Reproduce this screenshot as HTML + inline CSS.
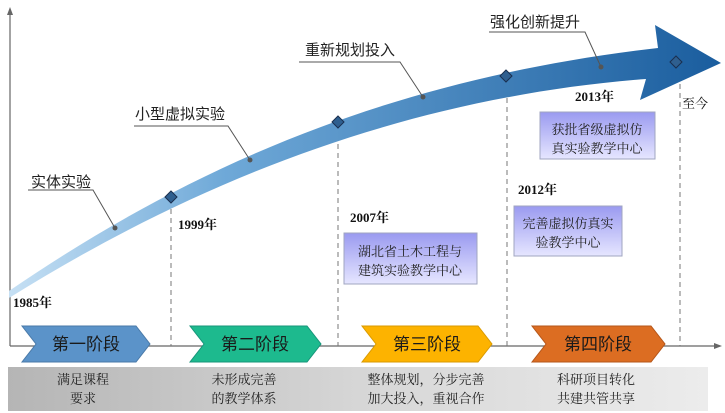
<!DOCTYPE html>
<html><head><meta charset="utf-8"><style>
html,body{margin:0;padding:0;background:#fff;}
svg{display:block;font-family:"Liberation Sans","Noto Sans CJK SC",sans-serif;}
.s{font-family:"Liberation Serif","Noto Serif CJK SC",serif;font-weight:bold;}
</style></head><body>
<svg width="725" height="413" viewBox="0 0 725 413" xmlns="http://www.w3.org/2000/svg">
<defs>
<linearGradient id="ag" x1="0" y1="0" x2="1" y2="0">
<stop offset="0" stop-color="#c6e0f4"/><stop offset="0.3" stop-color="#6fa9d8"/><stop offset="1" stop-color="#1a5d9e"/>
</linearGradient>
<linearGradient id="bx" x1="0" y1="0" x2="0" y2="1">
<stop offset="0" stop-color="#9a9af0"/><stop offset="1" stop-color="#e6e6ff"/>
</linearGradient>
<linearGradient id="gb" x1="0" y1="0" x2="1" y2="0">
<stop offset="0" stop-color="#b5b5b5"/><stop offset="0.5" stop-color="#d6d6d6"/><stop offset="1" stop-color="#ececec"/>
</linearGradient>
</defs>
<line x1="10" y1="346" x2="10" y2="12" stroke="#666" stroke-width="1.2"/>
<polygon points="10,7 7,15 13,15" fill="#666"/>
<line x1="10" y1="346" x2="716" y2="346" stroke="#666" stroke-width="1.2"/>
<polygon points="722,346 714,343 714,349" fill="#666"/>
<rect x="8" y="367" width="700" height="44" fill="url(#gb)"/>
<g stroke="#777" stroke-dasharray="5,4" stroke-width="1">
<line x1="171" y1="200" x2="171" y2="346"/>
<line x1="338" y1="126" x2="338" y2="346"/>
<line x1="507" y1="80" x2="507" y2="346"/>
<line x1="680" y1="66" x2="680" y2="346"/>
</g>
<path d="M9,291 C160,188 360,82 658,48 L655,25 L721,63 L640,100 L646,79 C400,98 190,185 9,298 Z" fill="url(#ag)"/>
<g fill="#2f5f8f" stroke="#1a2f4f" stroke-width="1">
<polygon points="171,191 177,197 171,203 165,197"/>
<polygon points="338,116 344,122 338,128 332,122"/>
<polygon points="506,70 512,76 506,82 500,76"/>
<polygon points="676,56 682,62 676,68 670,62"/>
</g>
<g fill="#555"><circle cx="115" cy="228" r="2.5"/><circle cx="250" cy="160" r="2.5"/><circle cx="423" cy="97" r="2.5"/><circle cx="601" cy="67" r="2.5"/></g>
<g stroke="#555" stroke-width="1" fill="none">
<polyline points="28,190 93,190 115,228"/>
<polyline points="134,126 228,126 250,160"/>
<polyline points="299,62 400,62 423,97"/>
<polyline points="489,32 585,32 601,67"/>
</g>
<g font-size="15" fill="#222">
<text x="31" y="187">实体实验</text>
<text x="135" y="119">小型虚拟实验</text>
<text x="305" y="55">重新规划投入</text>
<text x="490" y="27">强化创新提升</text>
</g>
<g class="s" font-size="13" fill="#111">
<text x="13" y="307">1985年</text>
<text x="178" y="229">1999年</text>
<text x="350" y="222">2007年</text>
<text x="518" y="194">2012年</text>
<text x="575" y="101">2013年</text>
<text x="682" y="108" font-weight="normal">至今</text>
</g>
<g stroke="#a0a6c0" stroke-width="1" fill="url(#bx)">
<rect x="344" y="233" width="133" height="51"/>
<rect x="514" y="206" width="108" height="50"/>
<rect x="540" y="112" width="115" height="47"/>
</g>
<g font-size="13" fill="#222" text-anchor="middle" font-family="'Liberation Serif','Noto Serif CJK SC',serif">
<text x="410" y="256">湖北省土木工程与</text><text x="410" y="275">建筑实验教学中心</text>
<text x="568" y="228">完善虚拟仿真实</text><text x="568" y="247">验教学中心</text>
<text x="597" y="134">获批省级虚拟仿</text><text x="597" y="153">真实验教学中心</text>
</g>
<polygon points="22,326 136,326 150,344 136,362 22,362 36,344" fill="#5b93c9" stroke="#4a7aa8"/>
<polygon points="190,326 307,326 321,344 307,362 190,362 204,344" fill="#1dba8e" stroke="#17957a"/>
<polygon points="362,326 478,326 492,344 478,362 362,362 376,344" fill="#fdb300" stroke="#d99a00"/>
<polygon points="532,326 651,326 665,344 651,362 532,362 546,344" fill="#dc6d22" stroke="#b5561a"/>
<g font-size="17" fill="#1a1a1a" text-anchor="middle">
<text x="86" y="350">第一阶段</text>
<text x="255" y="350">第二阶段</text>
<text x="427" y="350">第三阶段</text>
<text x="598" y="350">第四阶段</text>
</g>
<g font-size="13" fill="#222" text-anchor="middle" font-family="'Liberation Serif','Noto Serif CJK SC',serif">
<text x="83" y="384">满足课程</text><text x="83" y="403">要求</text>
<text x="244" y="384">未形成完善</text><text x="244" y="403">的教学体系</text>
<text x="426" y="384">整体规划，分步完善</text><text x="426" y="403">加大投入，重视合作</text>
<text x="596" y="384">科研项目转化</text><text x="596" y="403">共建共管共享</text>
</g>
</svg>
</body></html>
